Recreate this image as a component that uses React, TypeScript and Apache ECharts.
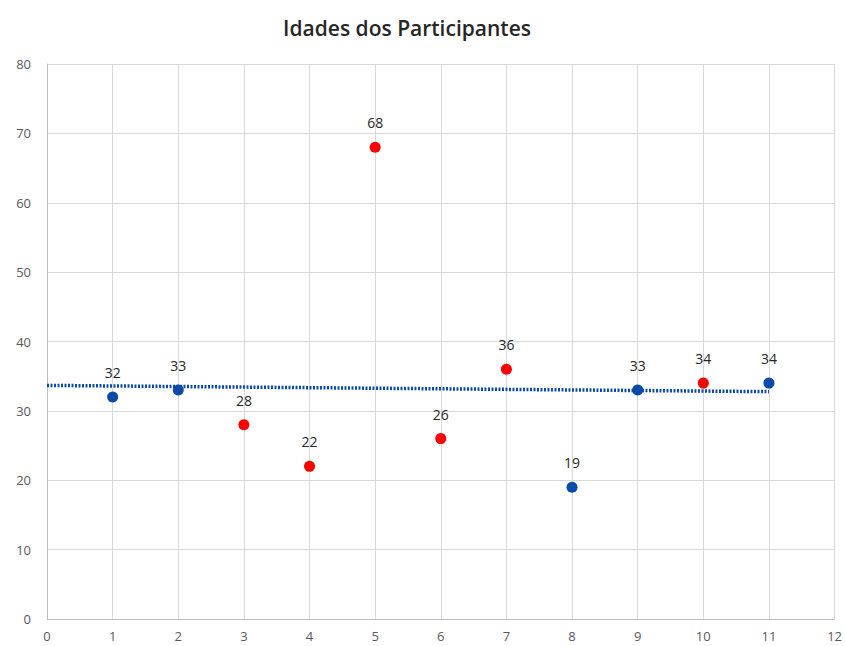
import React, { useEffect, useRef } from "react";
import * as echarts from "echarts";

const title = "Idades dos Participantes";
const participants = [1, 2, 3, 4, 5, 6, 7, 8, 9, 10, 11];
const ages = [32, 33, 28, 22, 68, 26, 36, 19, 33, 34, 34];
const isRed = [false, false, true, true, true, true, true, false, false, true, false];

const BLUE = "#0a4aa8";
const RED = "#ff0000";
const FONT = "Open Sans, Liberation Sans, sans-serif";

function regression(xs: number[], ys: number[]) {
  const n = xs.length;
  const mx = xs.reduce((a, b) => a + b, 0) / n;
  const my = ys.reduce((a, b) => a + b, 0) / n;
  let sxy = 0, sxx = 0;
  for (let i = 0; i < n; i++) {
    sxy += (xs[i] - mx) * (ys[i] - my);
    sxx += (xs[i] - mx) * (xs[i] - mx);
  }
  const slope = sxy / sxx;
  return { slope, intercept: my - slope * mx };
}

export default function App() {
  const ref = useRef<HTMLDivElement>(null);
  useEffect(() => {
    if (!ref.current) return;
    const chart = echarts.init(ref.current, undefined, { renderer: "svg" });
    const { slope, intercept } = regression(participants, ages);
    const x0 = 0;
    const x1 = participants[participants.length - 1];
    const blueData = participants.map((p, i) => (isRed[i] ? null : [p, ages[i]])).filter(Boolean);
    const redData = participants.map((p, i) => (isRed[i] ? [p, ages[i]] : null)).filter(Boolean);
    const labelCfg = {
      show: true,
      position: "top" as const,
      distance: 12,
      color: "#262626",
      fontSize: 14,
      fontFamily: FONT,
    };
    chart.setOption({
      animation: false,
      backgroundColor: "#ffffff",
      title: {
        text: title,
        left: 402,
        textAlign: "center",
        top: 12,
        textStyle: {
          fontSize: 21,
          fontWeight: 600,
          color: "#262626",
          fontFamily: FONT,
        },
      },
      grid: { left: 47, right: 9, top: 64, bottom: 27, containLabel: false },
      xAxis: {
        type: "value",
        min: 0,
        max: 12,
        interval: 1,
        axisLine: { show: true, lineStyle: { color: "#bfbfbf" } },
        axisTick: { show: false },
        splitLine: { show: true, lineStyle: { color: "#d9d9d9" } },
        axisLabel: { color: "#595959", fontSize: 13, margin: 10, fontFamily: FONT },
      },
      yAxis: {
        type: "value",
        min: 0,
        max: 80,
        interval: 10,
        axisLine: { show: true, lineStyle: { color: "#bfbfbf" } },
        axisTick: { show: false },
        splitLine: { show: true, lineStyle: { color: "#d9d9d9" } },
        axisLabel: { color: "#595959", fontSize: 13, margin: 16, fontFamily: FONT },
      },
      series: [
        {
          type: "line",
          data: [
            [x0, intercept + slope * x0],
            [x1, intercept + slope * x1],
          ],
          showSymbol: false,
          symbol: "none",
          lineStyle: { color: BLUE, width: 3.5, type: [2, 1.5], opacity: 1 },
          z: 3,
        },
        {
          type: "scatter",
          data: blueData,
          symbolSize: 11,
          itemStyle: { color: BLUE, opacity: 1 },
          label: labelCfg,
          z: 4,
        },
        {
          type: "scatter",
          data: redData,
          symbolSize: 11,
          itemStyle: { color: RED, opacity: 1 },
          label: labelCfg,
          z: 4,
        },
      ],
    });
    return () => chart.dispose();
  }, []);
  return <div ref={ref} style={{ width: 845, height: 646, position: "absolute", left: 0, top: 0 }} />;
}
